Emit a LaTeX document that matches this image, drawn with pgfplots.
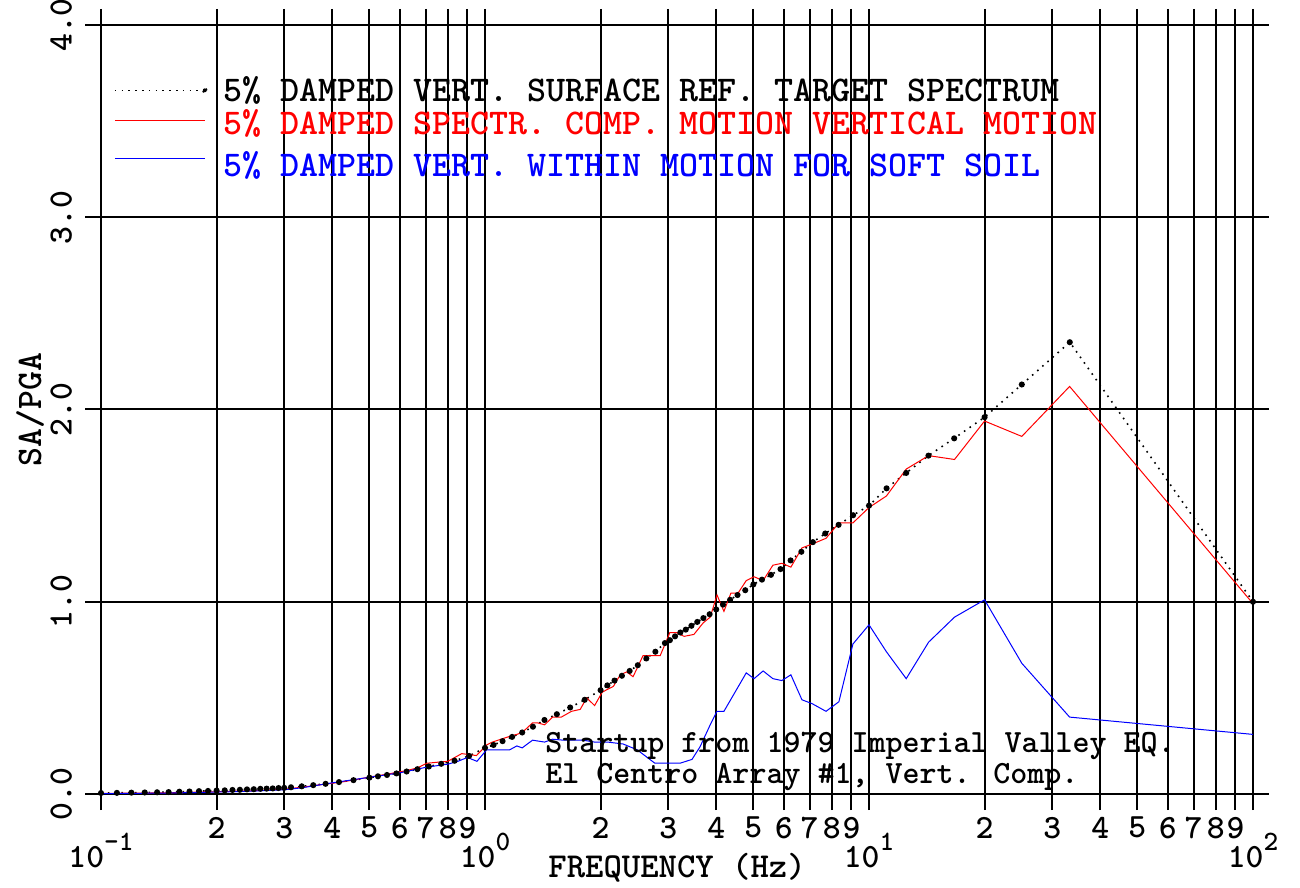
\documentclass[border=0pt]{standalone}
\usepackage{pgfplots}
\pgfplotsset{compat=1.18}
\renewcommand{\familydefault}{\ttdefault}
\renewcommand{\seriesdefault}{b}

% target spectrum (black dotted)
\pgfplotstableread{
f v
0.10 0.005
0.11 0.006
0.12 0.007
0.13 0.008
0.14 0.009
0.15 0.010
0.16 0.012
0.17 0.013
0.18 0.015
0.19 0.016
0.20 0.018
0.21 0.019
0.22 0.021
0.23 0.022
0.24 0.024
0.25 0.025
0.26 0.027
0.27 0.028
0.28 0.029
0.29 0.031
0.30 0.032
0.3125 0.035
0.3333 0.040
0.3571 0.046
0.3846 0.053
0.4167 0.062
0.4545 0.072
0.5000 0.085
0.5263 0.092
0.5556 0.099
0.5882 0.107
0.6250 0.117
0.6667 0.129
0.7143 0.143
0.7692 0.157
0.8333 0.173
0.9091 0.198
1.0000 0.240
1.0526 0.255
1.1111 0.275
1.1765 0.297
1.2500 0.320
1.3333 0.350
1.4286 0.385
1.5385 0.415
1.6667 0.450
1.8182 0.490
2.0000 0.540
2.0833 0.565
2.1739 0.590
2.2727 0.615
2.3810 0.640
2.5000 0.670
2.6316 0.705
2.7778 0.740
2.9412 0.785
3.0303 0.800
3.1250 0.820
3.2258 0.840
3.3333 0.855
3.4483 0.875
3.5714 0.895
3.7037 0.915
3.8462 0.935
4.0000 0.960
4.1667 0.985
4.3478 1.010
4.5455 1.035
4.7619 1.060
5.0000 1.090
5.2632 1.115
5.5556 1.140
5.8824 1.170
6.2500 1.215
6.6667 1.260
7.1429 1.310
7.6923 1.355
8.3333 1.400
9.0909 1.450
10.000 1.500
11.111 1.590
12.500 1.670
14.286 1.760
16.667 1.850
20.000 1.960
25.000 2.130
33.333 2.350
100.00 1.000
}\target

% spectrally compatible motion (red)
\pgfplotstableread{
f v
0.10 0.003
0.15 0.006
0.20 0.012
0.25 0.017
0.30 0.025
0.333 0.035
0.385 0.052
0.417 0.060
0.455 0.073
0.50 0.088
0.556 0.103
0.625 0.122
0.667 0.136
0.706 0.160
0.75 0.165
0.80 0.170
0.87 0.210
0.95 0.200
1.01 0.255
1.045 0.270
1.16 0.300
1.21 0.310
1.25 0.320
1.33 0.370
1.37 0.370
1.43 0.360
1.50 0.400
1.58 0.400
1.68 0.430
1.77 0.440
1.84 0.500
1.93 0.460
2.02 0.530
2.16 0.560
2.25 0.620
2.34 0.635
2.43 0.610
2.58 0.720
2.69 0.720
2.86 0.720
3.03 0.840
3.15 0.840
3.30 0.820
3.50 0.830
3.70 0.890
3.86 0.920
4.02 1.035
4.19 0.950
4.37 1.045
4.56 1.045
4.79 1.110
5.02 1.130
5.30 1.110
5.62 1.190
5.93 1.200
6.26 1.180
6.69 1.280
7.11 1.300
7.73 1.330
8.35 1.410
9.08 1.410
10.0 1.490
11.1 1.550
12.5 1.690
14.3 1.760
16.7 1.740
20.0 1.940
25.0 1.860
33.3 2.120
100 0.990
}\compat

% within motion, soft soil (blue)
\pgfplotstableread{
f v
0.10 0.002
0.15 0.005
0.20 0.010
0.25 0.015
0.30 0.022
0.333 0.032
0.40 0.058
0.50 0.087
0.60 0.110
0.706 0.140
0.80 0.155
0.85 0.170
0.90 0.190
0.953 0.170
1.01 0.230
1.045 0.230
1.16 0.230
1.21 0.250
1.25 0.240
1.33 0.280
1.43 0.270
1.50 0.285
1.60 0.280
1.80 0.280
1.93 0.270
2.09 0.270
2.29 0.260
2.49 0.230
2.77 0.160
3.22 0.160
3.46 0.180
3.63 0.245
3.86 0.360
4.02 0.430
4.19 0.430
4.79 0.630
5.02 0.600
5.30 0.640
5.62 0.600
5.93 0.590
6.26 0.620
6.69 0.490
7.11 0.470
7.73 0.430
8.35 0.480
9.08 0.780
10.0 0.880
11.1 0.740
12.5 0.600
14.3 0.790
16.7 0.920
20.0 1.010
25.0 0.680
33.3 0.400
100 0.310
}\within

\begin{document}
\begin{tikzpicture}
\path[use as bounding box] (-50.5pt,-47pt) rectangle (599.5pt,397pt);
\begin{axis}[
    at={(0pt,0pt)}, anchor=south west,
    xmode=log, log basis x=10,
    scale only axis, width=576pt, height=384.5pt,
    xmin=0.1, xmax=100, ymin=0, ymax=4,
    axis line style={black, line width=1pt},
    tick align=outside,
    tick style={black, line width=1pt},
    major tick length=8pt,
    xtick={0.2,0.3,0.4,0.5,0.6,0.7,0.8,0.9,2,3,4,5,6,7,8,9,20,30,40,50,60,70,80,90},
    xticklabels={2,3,4,5,6,7,8,9,2,3,4,5,6,7,8,9,2,3,4,5,6,7,8,9},
    minor xtick={},
    extra x ticks={0.1,1,10,100},
    extra x tick labels={10\raisebox{0.5em}{\fontsize{14}{14}\selectfont -1},
        10\raisebox{0.5em}{\fontsize{14}{14}\selectfont 0},
        10\raisebox{0.5em}{\fontsize{14}{14}\selectfont 1},
        10\raisebox{0.5em}{\fontsize{14}{14}\selectfont 2}},
    extra x tick style={xticklabel style={yshift=-8pt}},
    ytick={0,1,2,3,4},
    yticklabel shift=3pt,
    /pgf/number format/assume math mode=true,
    yticklabel style={rotate=90, anchor=south, font=\fontsize{17}{17}\selectfont,
        /pgf/number format/.cd, fixed, fixed zerofill, precision=1},
    xticklabel style={font=\fontsize{17}{17}\selectfont},
    grid=major,
    major grid style={black, line width=1pt},
    xlabel={FREQUENCY (Hz)},
    xlabel style={at={(axis description cs:0.5,0)}, anchor=center, yshift=-37pt,
        font=\fontsize{17.5}{17.5}\selectfont},
    ylabel={SA/PGA},
    ylabel style={at={(axis description cs:-0.0616,0.5)}, anchor=center,
        font=\fontsize{18}{18}\selectfont},
    legend style={at={(axis description cs:0.0057,0.939)}, anchor=north west,
        draw=none, fill=none, font=\fontsize{18.1}{18.1}\selectfont,
        row sep=0pt, nodes={inner sep=0pt}, column sep=8pt},
    legend cell align=left,
    legend image code/.code={\draw[#1] (0pt,0pt) -- (45pt,0pt);},
]
\addplot[black, line width=0.8pt, dash pattern=on 0.8pt off 2.6pt,
    mark=*, mark size=1.1pt, mark options={solid},
    legend image code/.code={\draw[black, line width=0.8pt, dash pattern=on 0.8pt off 2.6pt] (0pt,0pt) -- (45pt,0pt); \fill[black] (45pt,0pt) circle (1pt);}]
    table[x=f, y=v] {\target};
\addlegendentry{\rule[-4pt]{0pt}{16pt}5\% DAMPED VERT. SURFACE REF. TARGET SPECTRUM}
\addplot[red, line width=0.5pt] table[x=f, y=v] {\compat};
\addlegendentry{\rule[-4pt]{0pt}{19pt}\textcolor{red}{5\% DAMPED SPECTR. COMP. MOTION VERTICAL MOTION}}
\addplot[blue, line width=0.5pt] table[x=f, y=v] {\within};
\addlegendentry{\rule[-4pt]{0pt}{23.5pt}\textcolor{blue}{5\% DAMPED VERT. WITHIN MOTION FOR SOFT SOIL}}
\node[anchor=base west, inner sep=0pt, font=\fontsize{16.2}{16.2}\selectfont] at (axis cs:1.433,0.218) {Startup from 1979 Imperial Valley EQ.};
\node[anchor=base west, inner sep=0pt, font=\fontsize{16.2}{16.2}\selectfont] at (axis cs:1.433,0.057) {El Centro Array \#1, Vert. Comp.};
\end{axis}
\end{tikzpicture}
\end{document}
